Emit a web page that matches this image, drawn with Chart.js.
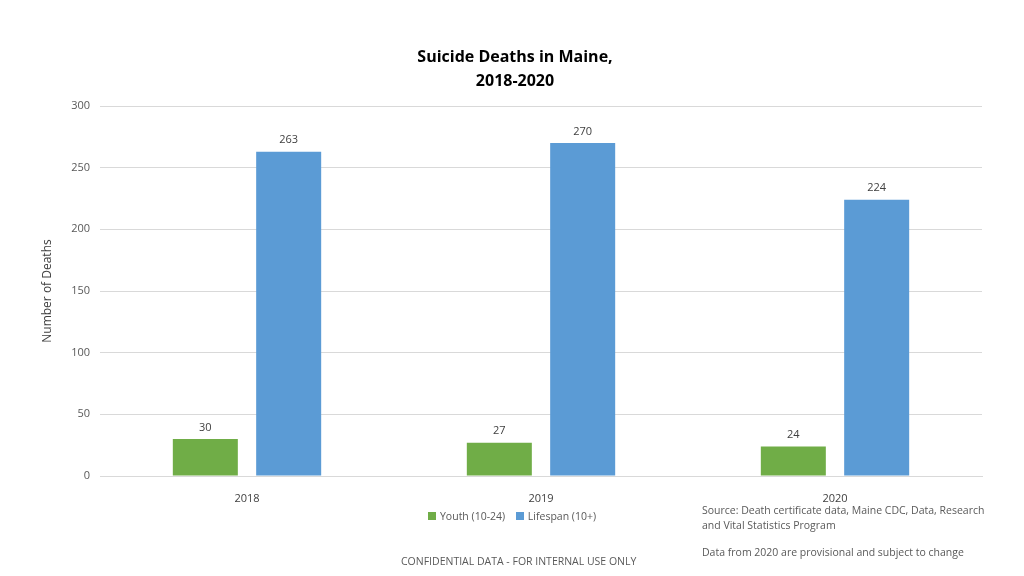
<!DOCTYPE html>
<html>
<head>
<meta charset="utf-8">
<script src="https://cdn.jsdelivr.net/npm/chart.js@4"></script>
<style>
  body { margin: 0; background: #fff; font-family: "Open Sans", sans-serif; }
  #wrap { position: relative; width: 1024px; height: 576px; }
  .txt { position: absolute; color: #595959; font-size: 10.5px; }
  #title { position: absolute; left: 0; width: 1030px; top: 44px; text-align: center;
           font-size: 16px; font-weight: bold; color: #000; line-height: 24px; }
  .sw { display: inline-block; width: 8px; height: 8px; margin-right: 4px; }
</style>
</head>
<body>
<div id="wrap">
  <canvas id="c" width="1024" height="576"></canvas>
  <div id="title">Suicide Deaths in Maine,<br>2018-2020</div>
  <div class="txt" style="left:428px;top:509px;">
    <span class="sw" style="background:#70ad47"></span>Youth (10-24)
    <span class="sw" style="background:#5b9bd5;margin-left:8px"></span>Lifespan (10+)
  </div>
  <div class="txt" style="left:702px;top:503px;line-height:15px;">Source: Death certificate data, Maine CDC, Data, Research<br>and Vital Statistics Program</div>
  <div class="txt" style="left:702px;top:545px;">Data from 2020 are provisional and subject to change</div>
  <div class="txt" style="left:401px;top:554px;">CONFIDENTIAL DATA - FOR INTERNAL USE ONLY</div>
</div>
<script>
const years = ['2018', '2019', '2020'];
const youth = [30, 27, 24];
const lifespan = [263, 270, 224];
const yTicks = [0, 50, 100, 150, 200, 250, 300];

const barLabels = {
  id: 'barLabels',
  afterDatasetsDraw(chart) {
    const ctx = chart.ctx;
    ctx.save();
    ctx.font = '11px "Open Sans"';
    ctx.fillStyle = '#404040';
    ctx.textAlign = 'center';
    ctx.textBaseline = 'bottom';
    chart.data.datasets.forEach((ds, i) => {
      chart.getDatasetMeta(i).data.forEach((bar, j) => {
        ctx.fillText(ds.data[j], bar.x, bar.y - 6);
      });
    });
    ctx.restore();
  }
};

new Chart(document.getElementById('c'), {
  type: 'bar',
  data: {
    labels: years,
    datasets: [
      { label: 'Youth (10-24)', data: youth, backgroundColor: '#70ad47' },
      { label: 'Lifespan (10+)', data: lifespan, backgroundColor: '#5b9bd5' }
    ]
  },
  options: {
    responsive: false,
    animation: false,
    categoryPercentage: 0.567,
    barPercentage: 0.78,
    layout: { padding: { left: 40, right: 42, top: 106, bottom: 70 } },
    plugins: { legend: { display: false }, tooltip: { enabled: false } },
    scales: {
      y: {
        min: 0, max: 300,
        afterBuildTicks: s => { s.ticks = yTicks.map(v => ({ value: v })); },
        afterFit: s => { s.width = 60; },
        border: { display: false },
        grid: { color: '#d9d9d9', drawTicks: false },
        ticks: { color: '#595959', font: { size: 11, family: 'Open Sans' }, padding: 10 },
        title: { display: true, text: 'Number of Deaths', color: '#404040', font: { size: 12, family: 'Open Sans' }, padding: 0 }
      },
      x: {
        afterFit: s => { s.height = 30; },
        grid: { display: false },
        border: { color: '#d9d9d9' },
        ticks: { color: '#404040', font: { size: 11, family: 'Open Sans' }, padding: 8 }
      }
    }
  },
  plugins: [barLabels]
});
</script>
</body>
</html>
